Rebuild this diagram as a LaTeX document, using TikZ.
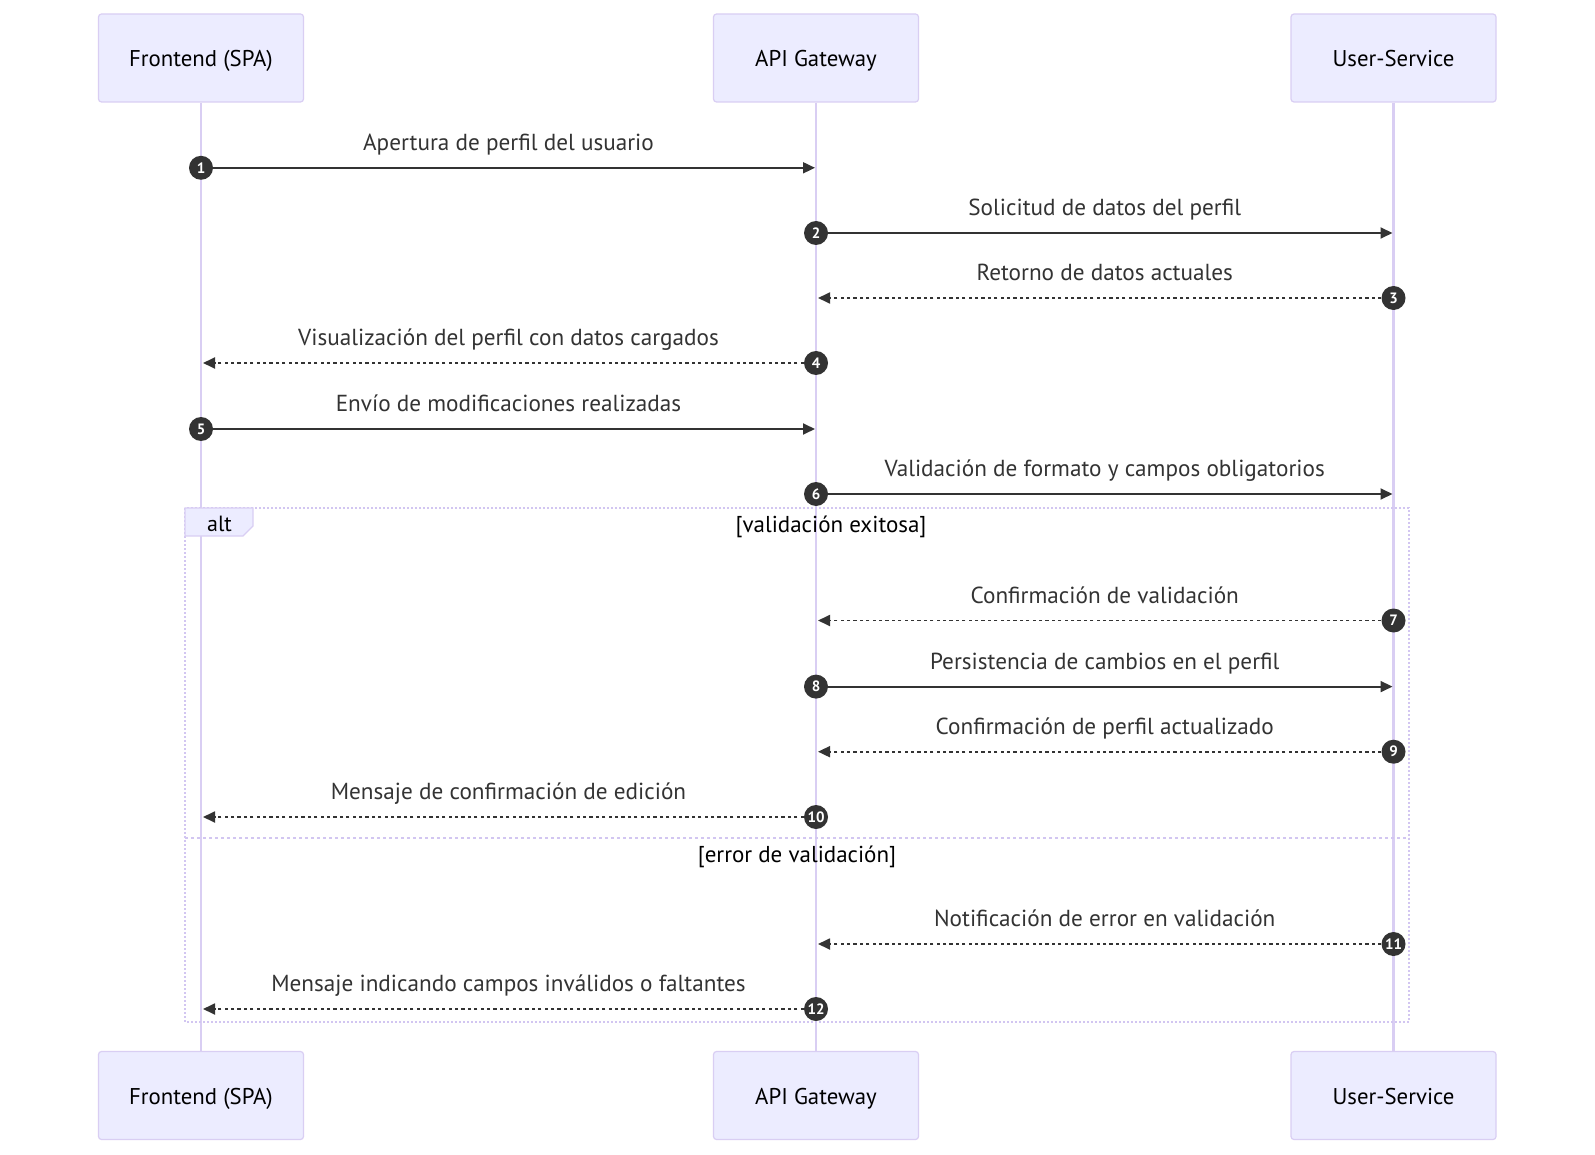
\documentclass[tikz,border=0pt]{standalone}
\usepackage{fontspec}
\setmainfont{PT Sans}
\usetikzlibrary{arrows.meta}
\definecolor{actbg}{HTML}{ECECFF}
\definecolor{actbd}{HTML}{D9CEF3}
\definecolor{altbd}{HTML}{D2C6F1}
\definecolor{msgc}{HTML}{333333}
\tikzset{
  actor/.style={draw=actbd, fill=actbg, line width=1.2pt, rounded corners=3pt,
    minimum width=205pt, minimum height=88pt, inner sep=0pt,
    text height=19.4pt, text depth=2pt,
    font=\fontsize{22.8}{26}\selectfont, text=black},
  life/.style={draw=actbd, line width=2.6pt},
  msg/.style={draw=msgc, line width=1.8pt, -{Triangle[length=12pt,width=11pt]}},
  dmsg/.style={msg, dash pattern=on 3.2pt off 3.2pt},
  num/.style={circle, fill=msgc, text=white, inner sep=0pt, minimum size=24pt,
    font=\bfseries\fontsize{15}{15}\selectfont},
  lbl/.style={text=msgc, font=\fontsize{23.2}{26}\selectfont, inner sep=0pt, anchor=base},
  altline/.style={draw=altbd, line width=2.2pt, dash pattern=on 2pt off 2pt},
  sepline/.style={draw=altbd, line width=2.2pt, dash pattern=on 3pt off 3pt},
  guard/.style={text=black, font=\fontsize{23}{26}\selectfont, inner sep=0pt, anchor=base},
}
\begin{document}
\begin{tikzpicture}[x=1pt,y=-1pt]
\useasboundingbox (0,0) rectangle (1595,1155);
\fill[white] (0,0) rectangle (1595,1155);
\def\xa{201}\def\xb{816}\def\xc{1393.5}
\node[actor] (fa) at (\xa,58) {Frontend (SPA)};
\node[actor] (ga) at (\xb,58) {API Gateway};
\node[actor] (ua) at (\xc,58) {User-Service};
\node[actor] (fb) at (\xa,1095.5) {Frontend (SPA)};
\node[actor] (gb) at (\xb,1095.5) {API Gateway};
\node[actor] (ub) at (\xc,1095.5) {User-Service};
\draw[life] (fa.south) -- (fb.north);
\draw[life] (ga.south) -- (gb.north);
\draw[life] (ua.south) -- (ub.north);
% alt frame
\coordinate (altTL) at (185,508);
\coordinate (altBR) at (1409,1022);
\draw[altline] (altTL) rectangle (altBR);
\draw[sepline] (185,838) -- (1409,838);
\draw[fill=actbg, draw=actbd, line width=1.2pt] (185,508) -- (253,508) -- (253,526) -- (243,536) -- (185,536) -- cycle;
\node[text=black, font=\fontsize{22}{24}\selectfont, inner sep=0pt, anchor=base] (altlbl) at (219.5,531) {alt};
\node[guard] (g1) at (831,532) {[validación exitosa]};
\node[guard] (g2) at (797,862) {[error de validación]};
% messages
\newcommand{\msgR}[5]{%
  \node[num] (n#1) at (#2,#4) {#1};
  \coordinate (e#1) at (#3-1,#4);
  \draw[msg] (n#1) -- (e#1);
  \node[lbl] (l#1) at ({(#2+#3)/2},#4-17.5) {#5};
}
\newcommand{\msgL}[5]{%
  \node[num] (n#1) at (#2,#4) {#1};
  \coordinate (e#1) at (#3+2,#4);
  \draw[dmsg] (n#1) -- (e#1);
  \node[lbl] (l#1) at ({(#2+#3)/2},#4-17.5) {#5};
}
\msgR{1}{\xa}{\xb}{167.8}{Apertura de perfil del usuario}
\msgR{2}{\xb}{\xc}{233}{Solicitud de datos del perfil}
\msgL{3}{\xc}{\xb}{298}{Retorno de datos actuales}
\msgL{4}{\xb}{\xa}{363}{Visualización del perfil con datos cargados}
\msgR{5}{\xa}{\xb}{429}{Envío de modificaciones realizadas}
\msgR{6}{\xb}{\xc}{494}{Validación de formato y campos obligatorios}
\msgL{7}{\xc}{\xb}{620.5}{Confirmación de validación}
\msgR{8}{\xb}{\xc}{686.6}{Persistencia de cambios en el perfil}
\msgL{9}{\xc}{\xb}{751.7}{Confirmación de perfil actualizado}
\msgL{10}{\xb}{\xa}{817}{Mensaje de confirmación de edición}
\msgL{11}{\xc}{\xb}{944}{Notificación de error en validación}
\msgL{12}{\xb}{\xa}{1009}{Mensaje indicando campos inválidos o faltantes}
\end{tikzpicture}
\end{document}
